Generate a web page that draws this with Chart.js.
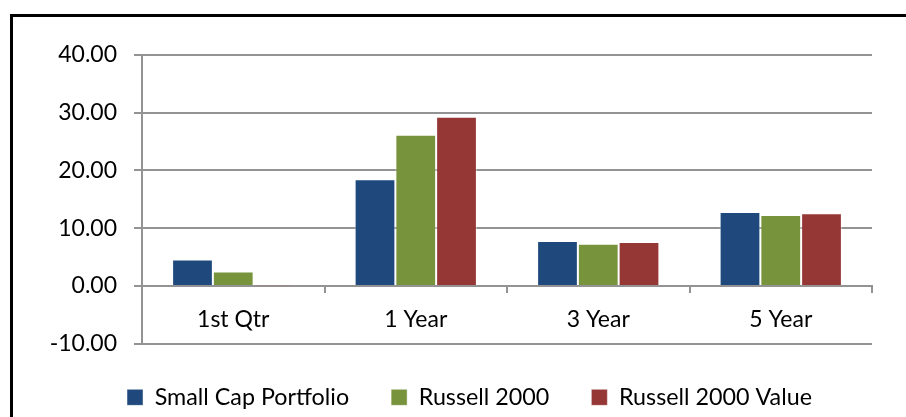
<!DOCTYPE html>
<html>
<head>
<meta charset="utf-8">
<script src="https://cdn.jsdelivr.net/npm/chart.js@4/dist/chart.umd.min.js"></script>
<style>
  html, body { margin: 0; padding: 0; background: #fff; overflow: hidden; }
  #frame { position: absolute; left: 10px; top: 14px; width: 1000px; height: 600px; border: 3px solid #000; }
  #chart { position: absolute; left: 0; top: 0; }
</style>
</head>
<body>
<div id="frame"></div>
<canvas id="chart" width="906" height="417"></canvas>
<script>
// --- chart data ---
const categories = ['1st Qtr', '1 Year', '3 Year', '5 Year'];
const smallCap = [4.6, 18.5, 7.8, 12.8];
const russell2000 = [2.5, 26.2, 7.3, 12.3];
const russell2000Value = [0.1, 29.3, 7.6, 12.6];
const seriesNames = ['Small Cap Portfolio', 'Russell 2000', 'Russell 2000 Value'];
const seriesColors = ['#1f497d', '#77933c', '#953735'];

const FONT = 'Lato';
const gridColor = '#939393';

const seriesData = [smallCap, russell2000, russell2000Value];

// y labels sit left of the (narrow) y scale box, so widen its clip area
const yLabelRoom = {
  id: 'yLabelRoom',
  afterLayout(chart) { chart.scales.y.left = 0; }
};

new Chart(document.getElementById('chart'), {
  type: 'bar',
  data: {
    labels: categories,
    datasets: seriesData.map((d, i) => ({
      label: seriesNames[i],
      data: d,
      backgroundColor: seriesColors[i],
      borderColor: 'rgba(255,255,255,0.45)',
      borderWidth: 1,
      barPercentage: 1,
      categoryPercentage: 0.67
    }))
  },
  plugins: [yLabelRoom],
  options: {
    responsive: false,
    animation: false,
    devicePixelRatio: 1,
    // left padding also centres the legend where the original has it
    layout: { padding: { left: 67, right: 34, top: 55, bottom: -2 } },
    plugins: {
      tooltip: { enabled: false },
      legend: {
        position: 'bottom',
        labels: {
          boxWidth: 16,
          boxHeight: 16,
          padding: 42,
          color: '#000',
          font: { family: FONT, size: 23.3 }
        }
      }
    },
    scales: {
      x: {
        position: { y: 0 },
        afterFit: s => { s.height = 0; },
        grid: {
          display: true,
          drawOnChartArea: false,
          drawTicks: true,
          tickLength: 6,
          color: gridColor,
          lineWidth: 2
        },
        border: { color: gridColor, width: 2 },
        ticks: { color: '#000', padding: 14, font: { family: FONT, size: 23 } }
      },
      y: {
        min: -10,
        max: 40,
        afterFit: s => { s.width = 75; },
        grid: { color: gridColor, lineWidth: 2, tickLength: 8 },
        border: { color: gridColor, width: 2 },
        ticks: {
          stepSize: 10,
          padding: 17,
          color: '#000',
          font: { family: FONT, size: 23 },
          callback: v => v.toFixed(2)
        }
      }
    }
  }
});
</script>
</body>
</html>
